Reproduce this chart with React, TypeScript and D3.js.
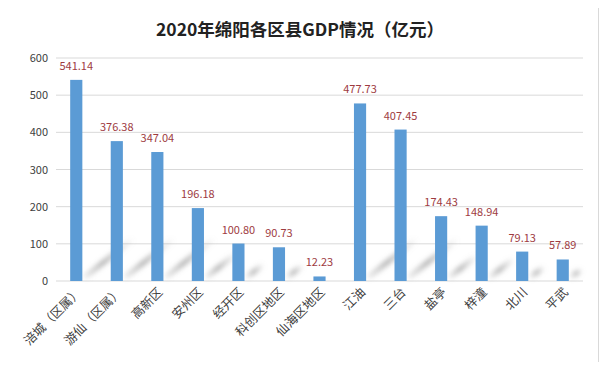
import { useEffect, useRef } from "react";
import * as d3 from "d3";

const districts = [
  "涪城（区属）", "游仙（区属）", "高新区", "安州区", "经开区", "科创区地区",
  "仙海区地区", "江油", "三台", "盐亭", "梓潼", "北川", "平武",
];
const gdp = [541.14, 376.38, 347.04, 196.18, 100.8, 90.73, 12.23, 477.73, 407.45, 174.43, 148.94, 79.13, 57.89];
const yTicks = [0, 100, 200, 300, 400, 500, 600];

const W = 607;
const H = 370;
const cjk = "'Noto Sans CJK SC', 'Noto Sans', sans-serif";

export default function App() {
  const ref = useRef<SVGSVGElement>(null);

  useEffect(() => {
    if (!ref.current) return;
    const svg = d3.select(ref.current);
    svg.selectAll("*").remove();

    const margin = { top: 58, right: 24, bottom: 89, left: 56 };
    const data = districts.map((name, i) => ({ name, value: gdp[i] }));

    const x = d3.scaleBand()
      .domain(districts)
      .range([margin.left, W - margin.right])
      .paddingInner(0.7)
      .paddingOuter(0.35);
    const y = d3.scaleLinear().domain([0, 600]).range([H - margin.bottom, margin.top]);

    // background + frame
    svg.append("rect").attr("width", W).attr("height", H).attr("fill", "#fff");
    svg.append("rect")
      .attr("x", 6.5).attr("y", 7.5).attr("width", 592).attr("height", 355)
      .attr("fill", "#fff").attr("stroke", "#d9d9d9");

    const defs = svg.append("defs");
    defs.append("filter").attr("id", "blur")
      .attr("x", "-50%").attr("y", "-50%").attr("width", "200%").attr("height", "200%")
      .append("feGaussianBlur").attr("stdDeviation", 2.4);
    const grad = defs.append("linearGradient").attr("id", "shade")
      .attr("x1", 0).attr("y1", 1).attr("x2", 1).attr("y2", 0);
    grad.append("stop").attr("offset", 0).attr("stop-color", "#999").attr("stop-opacity", 0.25);
    grad.append("stop").attr("offset", 0.35).attr("stop-color", "#999").attr("stop-opacity", 0.75);
    grad.append("stop").attr("offset", 1).attr("stop-color", "#999").attr("stop-opacity", 0);

    // title
    svg.append("text")
      .attr("x", 300).attr("y", 36)
      .attr("text-anchor", "middle")
      .attr("font-family", cjk).attr("font-weight", "bold").attr("font-size", 17.5)
      .attr("fill", "#222")
      .text("2020年绵阳各区县GDP情况（亿元）");

    // grid
    svg.append("g")
      .selectAll("line")
      .data(yTicks)
      .join("line")
        .attr("x1", margin.left).attr("x2", W - margin.right)
        .attr("y1", d => y(d)).attr("y2", d => y(d))
        .attr("stroke", "#d9d9d9").attr("stroke-width", 1);

    // y labels
    svg.append("g")
      .selectAll("text")
      .data(yTicks)
      .join("text")
        .attr("x", 48).attr("y", d => y(d) + 4)
        .attr("text-anchor", "end")
        .attr("font-family", cjk).attr("font-size", 11).attr("fill", "#404040")
        .text(d => d);

    // soft shadows cast by the bars
    const shadowLen = (v: number) => Math.min(60, (y(0) - y(v)) * 0.5);
    svg.append("g")
      .attr("filter", "url(#blur)")
      .selectAll("line")
      .data(data.filter(d => d.value > 30))
      .join("line")
        .attr("x1", d => x(d.name)! + x.bandwidth() + 4)
        .attr("y1", y(0) - 5)
        .attr("x2", d => x(d.name)! + x.bandwidth() + 4 + shadowLen(d.value) * 0.78)
        .attr("y2", d => y(0) - 5 - shadowLen(d.value) * 0.62)
        .attr("stroke", "url(#shade)").attr("stroke-width", 5)
        .attr("stroke-linecap", "round");

    // bars
    svg.append("g")
      .selectAll("rect")
      .data(data)
      .join("rect")
        .attr("x", d => x(d.name)!)
        .attr("y", d => y(d.value))
        .attr("width", x.bandwidth())
        .attr("height", d => y(0) - y(d.value))
        .attr("fill", "#5b9bd5");

    // value labels
    svg.append("g")
      .selectAll("text")
      .data(data)
      .join("text")
        .attr("x", d => x(d.name)! + x.bandwidth() / 2)
        .attr("y", d => y(d.value) - 10)
        .attr("text-anchor", "middle")
        .attr("font-family", cjk).attr("font-size", 11).attr("fill", "#9e3b3f")
        .text(d => d.value.toFixed(2));

    // category labels
    svg.append("g")
      .selectAll("text")
      .data(data)
      .join("text")
        .attr("transform", d => `translate(${x(d.name)! + x.bandwidth() / 2 + 6},${y(0) + 12}) rotate(-45)`)
        .attr("text-anchor", "end")
        .attr("font-family", cjk).attr("font-size", 12.5).attr("fill", "#404040")
        .text(d => d.name);
  }, []);

  return <svg ref={ref} width={W} height={H} style={{ display: "block", margin: "-8px" }} />;
}
